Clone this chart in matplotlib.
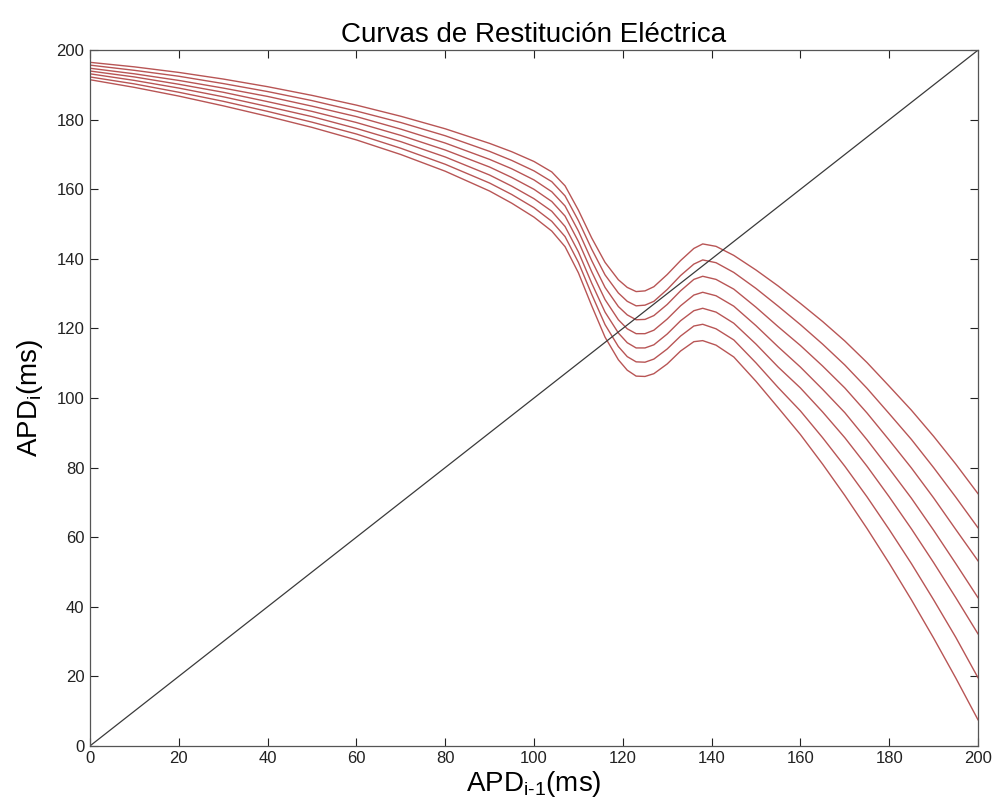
import matplotlib
matplotlib.use('Agg')
import matplotlib.pyplot as plt

plt.rcParams['font.family'] = ['Liberation Sans', 'DejaVu Sans']
plt.rcParams['mathtext.default'] = 'regular'

# APD_{i-1} sample points (ms)
apd_prev = [0, 10, 20, 30, 40, 50, 60, 70, 80, 90, 95, 100, 104, 107, 110, 113, 116,
            119, 121, 123, 125, 127, 130, 133, 136, 138, 141, 145, 150, 155, 160, 165,
            170, 175, 180, 185, 190, 195, 200]

# APD_i for each restitution curve, top to bottom
curve1 = [196.5, 195.2, 193.6, 191.7, 189.5, 187.0, 184.2, 181.0, 177.4, 173.2, 170.8, 168.0,
          165.0, 161.0, 154.0, 146.0, 139.0, 134.0, 131.8, 130.6, 130.8, 132.0, 135.5, 139.5,
          143.0, 144.3, 143.6, 141.0, 136.8, 132.2, 127.2, 122.0, 116.4, 110.2, 103.4, 96.5,
          89.0, 81.0, 72.5]
curve2 = [195.7, 194.2, 192.5, 190.4, 188.1, 185.5, 182.5, 179.2, 175.4, 170.9, 168.3, 165.3,
          162.2, 158.1, 151.0, 142.8, 135.4, 130.2, 127.8, 126.5, 126.7, 127.8, 131.2, 135.2,
          138.5, 139.7, 138.9, 136.1, 131.5, 126.4, 121.1, 115.5, 109.5, 102.8, 95.5, 88.1,
          80.0, 71.5, 62.7]
curve3 = [194.8, 193.2, 191.3, 189.1, 186.7, 183.9, 180.9, 177.3, 173.3, 168.6, 165.9, 162.7,
          159.3, 155.2, 148.0, 139.5, 131.8, 126.3, 123.9, 122.5, 122.6, 123.7, 126.9, 130.8,
          134.1, 135.0, 134.1, 131.3, 126.1, 120.5, 115.1, 109.2, 102.9, 95.7, 87.9, 79.9,
          71.3, 62.2, 53.2]
curve4 = [194.0, 192.3, 190.2, 187.9, 185.2, 182.4, 179.2, 175.5, 171.3, 166.4, 163.4, 160.0,
          156.5, 152.3, 145.0, 136.3, 128.3, 122.5, 119.9, 118.5, 118.5, 119.5, 122.7, 126.5,
          129.6, 130.4, 129.4, 126.4, 120.8, 114.7, 108.9, 102.5, 95.8, 88.0, 79.7, 71.2,
          62.0, 52.4, 42.6]
curve5 = [193.2, 191.3, 189.1, 186.6, 183.8, 180.9, 177.5, 173.7, 169.3, 164.1, 160.9, 157.3,
          153.7, 149.3, 142.0, 133.0, 124.7, 118.7, 115.9, 114.4, 114.4, 115.3, 118.4, 122.2,
          125.1, 125.8, 124.7, 121.5, 115.5, 108.9, 102.9, 96.0, 88.6, 80.4, 71.6, 62.4,
          52.7, 42.6, 32.2]
curve6 = [192.3, 190.3, 187.9, 185.3, 182.4, 179.3, 175.9, 171.8, 167.2, 161.8, 158.5, 154.7,
          150.8, 146.4, 139.0, 129.8, 121.1, 114.8, 111.9, 110.4, 110.3, 111.2, 114.1, 117.8,
          120.7, 121.2, 119.9, 116.7, 110.1, 103.0, 96.3, 88.6, 80.4, 71.6, 62.2, 52.4,
          42.0, 31.2, 19.6]
curve7 = [191.5, 189.3, 186.8, 184.0, 181.0, 177.8, 174.2, 170.0, 165.2, 159.5, 156.0, 152.0,
          148.0, 143.5, 136.0, 126.5, 117.5, 111.0, 108.0, 106.3, 106.2, 107.0, 109.8, 113.5,
          116.2, 116.5, 115.2, 111.8, 104.8, 97.2, 89.5, 81.0, 72.0, 62.5, 52.5, 42.0,
          31.0, 19.5, 7.5]
curves = [curve1, curve2, curve3, curve4, curve5, curve6, curve7]

# identity line APD_i = APD_{i-1}
identity = [0, 200]

fig = plt.figure(figsize=(10, 8.09), dpi=100)
ax = fig.add_axes([0.09, 0.078, 0.888, 0.860])

for c in curves:
    ax.plot(apd_prev, c, color='#b85555', linewidth=1.0)
ax.plot(identity, identity, color='#3a3a3a', linewidth=0.9)

ax.set_xlim(0, 200)
ax.set_ylim(0, 200)
ax.set_xticks(range(0, 201, 20))
ax.set_yticks(range(0, 201, 20))
ax.tick_params(direction='in', top=True, right=True, length=6, labelsize=12,
               colors='#222222', pad=4)
for s in ax.spines.values():
    s.set_color('#555555')
    s.set_linewidth(0.9)

ax.set_title('Curvas de Restitución Eléctrica', fontsize=20, pad=6)
ax.set_xlabel('APD$_{i\u20101}$(ms)', fontsize=20, labelpad=2)
ax.set_ylabel('APD$_{i}$(ms)', fontsize=20, labelpad=8)

plt.savefig('out.png', dpi=100)
